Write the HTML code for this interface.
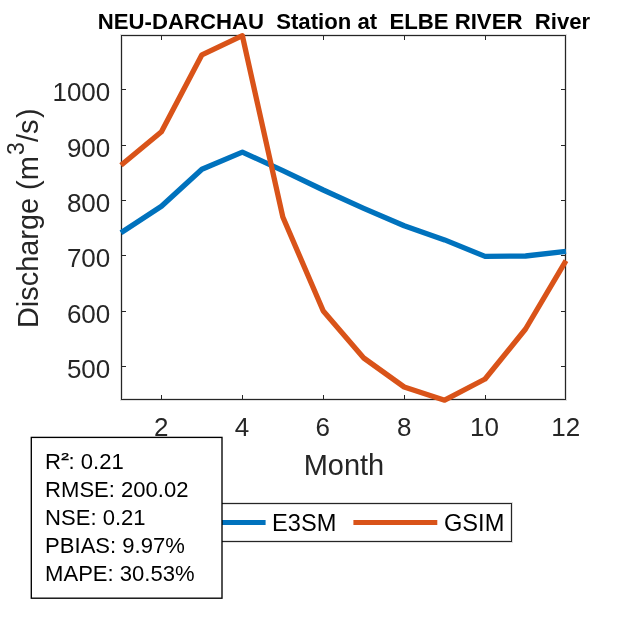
<!DOCTYPE html>
<html><head><meta charset="utf-8"><title>NEU-DARCHAU Station at ELBE RIVER River</title>
<style>
html,body{margin:0;padding:0;background:#fff;}
body{width:625px;height:625px;overflow:hidden;position:relative;font-family:"Liberation Sans",sans-serif;}
svg{position:absolute;left:0;top:0;}
text{font-family:"Liberation Sans",sans-serif;}
.tk{font-size:26px;fill:#262626;}
.lb{font-size:29px;fill:#262626;}
.lg{font-size:23.6px;fill:#000;}
.st{font-size:22.05px;fill:#000;}
.ti{font-size:22.17px;font-weight:bold;fill:#000;}
</style></head><body>
<svg width="625" height="625" viewBox="0 0 625 625">
<rect x="0" y="0" width="625" height="625" fill="#fff"/>
<text class="ti" x="343.95" y="28.65" text-anchor="middle" xml:space="preserve">NEU-DARCHAU  Station at  ELBE RIVER  River</text>
<rect x="121.5" y="35.5" width="444.0" height="364.0" fill="none" stroke="#262626" stroke-opacity="0.14" stroke-width="3" shape-rendering="crispEdges"/>
<g stroke="#262626" stroke-width="1" fill="none" shape-rendering="crispEdges">
<rect x="121.5" y="35.5" width="444.0" height="364.0"/>
<line x1="161.5" y1="399.5" x2="161.5" y2="395.0"/><line x1="161.5" y1="35.5" x2="161.5" y2="40.0"/>
<line x1="242.5" y1="399.5" x2="242.5" y2="395.0"/><line x1="242.5" y1="35.5" x2="242.5" y2="40.0"/>
<line x1="323.5" y1="399.5" x2="323.5" y2="395.0"/><line x1="323.5" y1="35.5" x2="323.5" y2="40.0"/>
<line x1="404.5" y1="399.5" x2="404.5" y2="395.0"/><line x1="404.5" y1="35.5" x2="404.5" y2="40.0"/>
<line x1="485.5" y1="399.5" x2="485.5" y2="395.0"/><line x1="485.5" y1="35.5" x2="485.5" y2="40.0"/>
<line x1="121.5" y1="89.5" x2="126.0" y2="89.5"/><line x1="565.5" y1="89.5" x2="561.0" y2="89.5"/>
<line x1="121.5" y1="145.5" x2="126.0" y2="145.5"/><line x1="565.5" y1="145.5" x2="561.0" y2="145.5"/>
<line x1="121.5" y1="200.5" x2="126.0" y2="200.5"/><line x1="565.5" y1="200.5" x2="561.0" y2="200.5"/>
<line x1="121.5" y1="255.5" x2="126.0" y2="255.5"/><line x1="565.5" y1="255.5" x2="561.0" y2="255.5"/>
<line x1="121.5" y1="311.5" x2="126.0" y2="311.5"/><line x1="565.5" y1="311.5" x2="561.0" y2="311.5"/>
<line x1="121.5" y1="366.5" x2="126.0" y2="366.5"/><line x1="565.5" y1="366.5" x2="561.0" y2="366.5"/>
</g>
<g fill="none" stroke-width="5.3" stroke-linejoin="round" stroke-linecap="butt">
<polyline stroke="#0072BD" points="121.00,232.70 161.45,206.30 201.91,169.20 242.36,152.10 282.82,170.60 323.27,190.00 363.73,208.30 404.18,225.80 444.64,239.90 485.09,256.35 525.55,256.00 566.00,251.40"/>
<polyline stroke="#D95319" points="121.00,165.20 161.45,131.70 201.91,54.80 242.36,35.70 282.82,217.00 323.27,311.00 363.73,358.00 404.18,387.00 444.64,400.20 485.09,379.00 525.55,329.00 566.00,260.60"/>
</g>
<text class="tk" x="161.2" y="436" text-anchor="middle">2</text>
<text class="tk" x="241.9" y="436" text-anchor="middle">4</text>
<text class="tk" x="322.8" y="436" text-anchor="middle">6</text>
<text class="tk" x="404.2" y="436" text-anchor="middle">8</text>
<text class="tk" x="484.5" y="436" text-anchor="middle">10</text>
<text class="tk" x="565.7" y="436" text-anchor="middle">12</text>
<text class="tk" x="110.3" y="100.55" text-anchor="end">1000</text>
<text class="tk" x="110.3" y="156.55" text-anchor="end">900</text>
<text class="tk" x="110.3" y="211.55" text-anchor="end">800</text>
<text class="tk" x="110.3" y="266.55" text-anchor="end">700</text>
<text class="tk" x="110.3" y="322.55" text-anchor="end">600</text>
<text class="tk" x="110.3" y="377.55" text-anchor="end">500</text>
<text class="lb" x="343.95" y="474.7" text-anchor="middle">Month</text>
<g transform="translate(37.9,328) rotate(-90)"><text class="lb" x="0" y="0" style="font-size:28.88px">Discharge (m</text><text class="lb" x="173.0" y="-14.2" style="font-size:23px">3</text><text class="lb" x="186" y="0">/s</text><text class="lb" x="209.9" y="0">)</text></g>
<rect x="175.5" y="503.5" width="336" height="38" fill="#fff" stroke="#262626" stroke-opacity="0.14" stroke-width="3" shape-rendering="crispEdges"/>
<rect x="175.5" y="503.5" width="336" height="38" fill="none" stroke="#262626" stroke-width="1" shape-rendering="crispEdges"/>
<line x1="181.5" y1="522.45" x2="265.6" y2="522.45" stroke="#0072BD" stroke-width="5.1"/>
<text class="lg" x="272.1" y="531.1">E3SM</text>
<line x1="353.4" y1="522.45" x2="437.3" y2="522.45" stroke="#D95319" stroke-width="5.1"/>
<text class="lg" x="444.0" y="531.1">GSIM</text>
<rect x="31.3" y="437.4" width="190.7" height="160.8" fill="#fff" stroke="#000" stroke-width="1.35"/>
<text class="st" x="45.1" y="468.8">R</text><text class="st" transform="translate(61.35,465.2) scale(1.04,0.82)" stroke="#000" stroke-width="0.35">²</text><text class="st" x="68.6" y="468.8">: 0.21</text>
<text class="st" x="45.1" y="496.9">RMSE: 200.02</text>
<text class="st" x="45.1" y="524.9">NSE: 0.21</text>
<text class="st" x="45.1" y="553.0">PBIAS: 9.97%</text>
<text class="st" x="45.1" y="581.0">MAPE: 30.53%</text>
</svg>
</body></html>
